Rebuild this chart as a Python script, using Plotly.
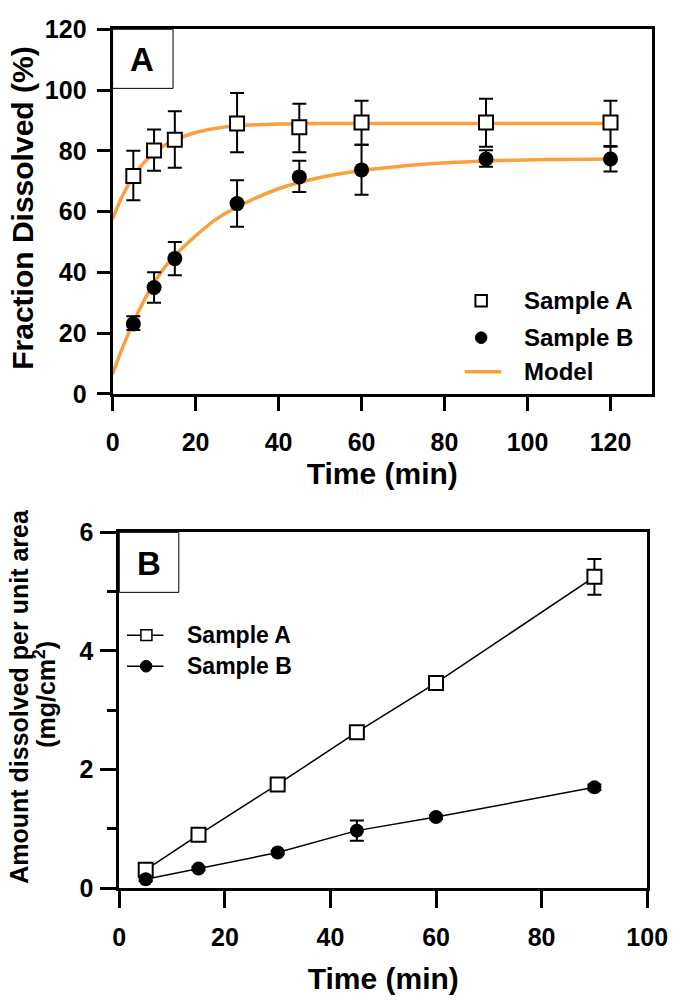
import plotly.graph_objects as go

W, H = 697, 1001

# ---------------- Panel A data ----------------
time_a = [5, 10, 15, 30, 45, 60, 90, 120]
frac_sample_a = [71.7, 80.1, 83.6, 89.0, 87.7, 89.3, 89.3, 89.3]
frac_sample_a_up = [8.3, 6.9, 9.4, 10.0, 7.8, 7.2, 7.8, 7.2]
frac_sample_a_dn = [8.0, 6.7, 9.2, 9.5, 8.2, 7.3, 8.0, 7.7]
frac_sample_b = [23.0, 35.0, 44.5, 62.6, 71.4, 73.7, 77.3, 77.3]
frac_sample_b_up = [2.5, 5.0, 5.5, 7.7, 5.3, 8.3, 2.9, 4.0]
frac_sample_b_dn = [2.0, 5.0, 5.5, 7.6, 5.0, 8.2, 2.6, 4.1]

model_t = [0, 2.5, 5, 7.5, 10, 12.5, 15, 20, 25, 30, 40, 50, 60, 75, 90, 105, 120]
model_a = [57.5, 65.5, 71.5, 76.0, 79.3, 81.8, 83.5, 86.0, 87.4, 88.2, 88.8, 89.0, 89.0, 89.0, 89.0, 89.0, 89.0]
model_b = [6.5, 15.5, 23.5, 30.5, 36.5, 41.5, 45.5, 52.0, 57.5, 61.5, 67.5, 71.2, 73.5, 75.6, 76.6, 77.1, 77.3]

# ---------------- Panel B data ----------------
time_b = [5, 15, 30, 45, 60, 90]
amount_sample_a = [0.31, 0.90, 1.75, 2.63, 3.46, 5.25]
amount_sample_a_err = [0.05, 0.05, 0.07, 0.05, 0.07, 0.30]
amount_sample_b = [0.15, 0.33, 0.60, 0.97, 1.20, 1.70]
amount_sample_b_err = [0.03, 0.03, 0.03, 0.17, 0.03, 0.05]

xticks_a = [0, 20, 40, 60, 80, 100, 120]
yticks_a = [0, 20, 40, 60, 80, 100, 120]
xticks_b = [0, 20, 40, 60, 80, 100]
yticks_b = [0, 2, 4, 6]
yminor_b = [1, 3, 5]

ORANGE = "#F9A03F"
FONT = "Liberation Sans"


def fx(px):
    return px / W


def fy(py):
    return 1 - py / H


fig = go.Figure()

# Panel A: model curves first (behind markers)
fig.add_trace(go.Scatter(x=model_t, y=model_a, mode="lines", line=dict(color=ORANGE, width=3.5, shape="spline"),
                         xaxis="x", yaxis="y", showlegend=False, name="Model"))
fig.add_trace(go.Scatter(x=model_t, y=model_b, mode="lines", line=dict(color=ORANGE, width=3.5, shape="spline"),
                         xaxis="x", yaxis="y", showlegend=False, name="Model"))
fig.add_trace(go.Scatter(x=time_a, y=frac_sample_b, mode="markers",
                         marker=dict(symbol="circle", size=15, color="black"),
                         error_y=dict(type="data", array=frac_sample_b_up, arrayminus=frac_sample_b_dn,
                                      color="black", thickness=2, width=7),
                         xaxis="x", yaxis="y", showlegend=False, name="Sample B"))
fig.add_trace(go.Scatter(x=time_a, y=frac_sample_a, mode="markers",
                         marker=dict(symbol="square", size=14, color="white", line=dict(color="black", width=2)),
                         error_y=dict(type="data", array=frac_sample_a_up, arrayminus=frac_sample_a_dn,
                                      color="black", thickness=2, width=7),
                         xaxis="x", yaxis="y", showlegend=False, name="Sample A"))

# Panel B
fig.add_trace(go.Scatter(x=time_b, y=amount_sample_a, mode="lines+markers",
                         line=dict(color="black", width=1.5),
                         marker=dict(symbol="square", size=14, color="white", line=dict(color="black", width=2)),
                         error_y=dict(type="data", array=amount_sample_a_err, color="black", thickness=2, width=7),
                         xaxis="x2", yaxis="y2", showlegend=False, name="Sample A"))
fig.add_trace(go.Scatter(x=time_b, y=amount_sample_b, mode="lines+markers",
                         line=dict(color="black", width=1.5),
                         marker=dict(symbol="circle", size=14, color="black"),
                         error_y=dict(type="data", array=amount_sample_b_err, color="black", thickness=2, width=7),
                         xaxis="x2", yaxis="y2", showlegend=False, name="Sample B"))

tickfont = dict(family=FONT, size=25, color="black", weight="bold")
axis_common = dict(showline=True, linewidth=3, linecolor="black", mirror=True, showgrid=False,
                   zeroline=False, ticks="outside", tickwidth=3, tickcolor="black",
                   tickfont=tickfont)
title_font = dict(family=FONT, size=30, color="black", weight="bold")

fig.update_layout(
    width=W, height=H, margin=dict(l=0, r=0, t=0, b=0),
    paper_bgcolor="white", plot_bgcolor="white",
    xaxis=dict(domain=[fx(110), fx(672)], range=[0, 130], tickvals=xticks_a, ticklen=14,
               ticklabelstandoff=10,
               title=dict(text="Time (min)", font=title_font, standoff=9),
               anchor="y", **axis_common),
    yaxis=dict(domain=[fy(390.7), fy(15.7)], range=[0, 120], tickvals=yticks_a, ticklen=13,
               ticklabelstandoff=5, anchor="x", **axis_common),
    xaxis2=dict(domain=[fx(117), fx(667)], range=[0, 100], tickvals=xticks_b, ticklen=17,
                ticklabelstandoff=8,
                title=dict(text="Time (min)", font=title_font, standoff=18),
                anchor="y2", **axis_common),
    yaxis2=dict(domain=[fy(899.3), fy(533.3)], range=[0, 6], tickvals=yticks_b, ticklen=16,
                ticklabelstandoff=2,
                minor=dict(tickvals=yminor_b, ticks="outside", ticklen=9, tickwidth=3, tickcolor="black"),
                anchor="x2", **axis_common),
)

annotations = [
    # y-axis titles
    dict(text="Fraction Dissolved (%)", x=fx(16), y=fy(200), xref="paper", yref="paper",
         textangle=-90, showarrow=False, xanchor="center", yanchor="middle",
         font=dict(family=FONT, size=30, color="black", weight="bold")),
    dict(text="Amount dissolved per unit area", x=fx(13), y=fy(702), xref="paper", yref="paper",
         textangle=-90, showarrow=False, xanchor="center", yanchor="middle",
         font=dict(family=FONT, size=25, color="black", weight="bold")),
    dict(text="(mg/cm<sup>2</sup>)", x=fx(40), y=fy(700), xref="paper", yref="paper",
         textangle=-90, showarrow=False, xanchor="center", yanchor="middle",
         font=dict(family=FONT, size=25, color="black", weight="bold")),
    # panel labels
    dict(text="A", x=fx(141), y=fy(47), xref="paper", yref="paper", showarrow=False,
         xanchor="center", yanchor="middle", font=dict(family=FONT, size=33, color="black", weight="bold")),
    dict(text="B", x=fx(148), y=fy(565), xref="paper", yref="paper", showarrow=False,
         xanchor="center", yanchor="middle", font=dict(family=FONT, size=33, color="black", weight="bold")),
    # legend A
    dict(text="Sample A", x=fx(537), y=fy(295), xref="paper", yref="paper", showarrow=False,
         xanchor="left", yanchor="middle", font=dict(family=FONT, size=24, color="black", weight="bold")),
    dict(text="Sample B", x=fx(537), y=fy(333), xref="paper", yref="paper", showarrow=False,
         xanchor="left", yanchor="middle", font=dict(family=FONT, size=24, color="black", weight="bold")),
    dict(text="Model", x=fx(537), y=fy(368), xref="paper", yref="paper", showarrow=False,
         xanchor="left", yanchor="middle", font=dict(family=FONT, size=24, color="black", weight="bold")),
    # legend B
    dict(text="Sample A", x=fx(185), y=fy(639), xref="paper", yref="paper", showarrow=False,
         xanchor="left", yanchor="middle", font=dict(family=FONT, size=23, color="black", weight="bold")),
    dict(text="Sample B", x=fx(185), y=fy(671), xref="paper", yref="paper", showarrow=False,
         xanchor="left", yanchor="middle", font=dict(family=FONT, size=23, color="black", weight="bold")),
]

shapes = [
    # panel label boxes
    dict(type="rect", xref="paper", yref="paper", x0=fx(110), x1=fx(173), y0=fy(76.5), y1=fy(15.7),
         line=dict(color="black", width=1)),
    dict(type="rect", xref="paper", yref="paper", x0=fx(117), x1=fx(179), y0=fy(595), y1=fy(533.3),
         line=dict(color="black", width=1)),
    # legend A symbols
    dict(type="rect", xref="paper", yref="paper", x0=fx(488), x1=fx(500), y0=fy(301), y1=fy(289),
         line=dict(color="black", width=2), fillcolor="white"),
    dict(type="circle", xref="paper", yref="paper", x0=fx(488), x1=fx(500), y0=fy(339), y1=fy(327),
         line=dict(color="black", width=1), fillcolor="black"),
    dict(type="line", xref="paper", yref="paper", x0=fx(477), x1=fx(515), y0=fy(368), y1=fy(368),
         line=dict(color=ORANGE, width=3.5)),
    # legend B symbols
    dict(type="line", xref="paper", yref="paper", x0=fx(125), x1=fx(163), y0=fy(639), y1=fy(639),
         line=dict(color="black", width=1.5)),
    dict(type="rect", xref="paper", yref="paper", x0=fx(139.5), x1=fx(151), y0=fy(644.5), y1=fy(633.5),
         line=dict(color="black", width=1.5), fillcolor="white"),
    dict(type="line", xref="paper", yref="paper", x0=fx(125), x1=fx(163), y0=fy(671), y1=fy(671),
         line=dict(color="black", width=1.5)),
    dict(type="circle", xref="paper", yref="paper", x0=fx(139), x1=fx(151), y0=fy(677), y1=fy(665),
         line=dict(color="black", width=1), fillcolor="black"),
]

fig.update_layout(annotations=annotations, shapes=shapes)

fig.write_html("out.html")
